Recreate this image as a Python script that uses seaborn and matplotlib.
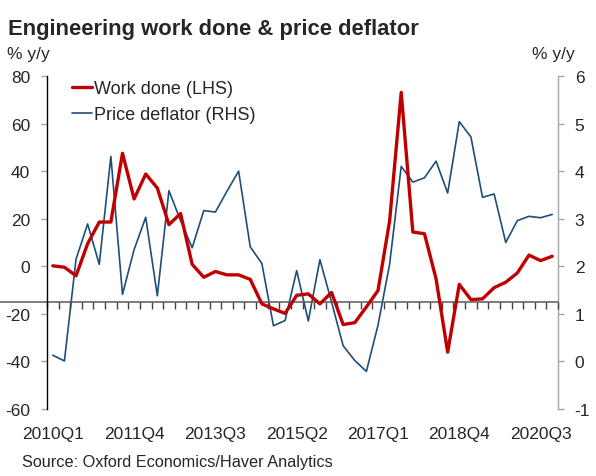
import numpy as np
import pandas as pd
import matplotlib
matplotlib.use("Agg")
import matplotlib.pyplot as plt
import seaborn as sns
from matplotlib.ticker import FixedLocator

# quarterly data, 2010Q1 .. 2020Q4
quarters = [f"{y}Q{q}" for y in range(2010, 2021) for q in range(1, 5)]
work_done = [0.2, -0.4, -4.0, 9.5, 18.6, 18.6, 47.5, 28.3, 38.8, 32.9,
             17.5, 22.2, 0.8, -4.6, -2.2, -3.6, -3.6, -5.5, -15.8, -17.9,
             -19.8, -12.2, -11.6, -15.8, -11.0, -24.5, -23.7, -17.1, -10.2, 19.0,
             73.1, 14.4, 13.7, -5.3, -36.1, -7.6, -14.0, -13.7, -9.0, -6.7,
             -2.8, 4.7, 2.4, 4.2]
price_deflator = [0.13, 0.01, 2.15, 2.89, 2.04, 4.31, 1.41, 2.35, 3.03, 1.38,
                  3.59, 2.96, 2.39, 3.17, 3.14, 3.58, 4.0, 2.41, 2.06, 0.75,
                  0.86, 1.91, 0.85, 2.14, 1.25, 0.33, 0.02, -0.21, 0.76, 2.04,
                  4.1, 3.77, 3.86, 4.21, 3.54, 5.04, 4.72, 3.45, 3.52, 2.5,
                  2.96, 3.05, 3.02, 3.09]
shown_labels = ["2010Q1", "2011Q4", "2013Q3", "2015Q2", "2017Q1", "2018Q4", "2020Q3"]
left_ticks = [80, 60, 40, 20, 0, -20, -40, -60]
right_ticks = [6, 5, 4, 3, 2, 1, 0, -1]

RED = "#C00000"
BLUE = "#1F4E79"
GREY = "#A6A6A6"

sns.set_style("white")
plt.rcParams["font.family"] = ["Liberation Sans", "DejaVu Sans"]
plt.rcParams["axes.unicode_minus"] = False

df = pd.DataFrame({"pos": np.arange(len(quarters)), "quarter": quarters,
                   "work": work_done, "defl": price_deflator})

fig = plt.figure(figsize=(5.96, 4.77), dpi=100)
ax = fig.add_axes([47 / 596, 1 - 410 / 477, 511 / 596, 333 / 477])
ax2 = ax.twinx()

sns.lineplot(data=df, x="pos", y="defl", ax=ax2, color=BLUE, linewidth=1.2,
             label="Price deflator (RHS)", legend=False)
sns.lineplot(data=df, x="pos", y="work", ax=ax, color=RED, linewidth=2.4,
             label="Work done (LHS)", legend=False)

ax.set_zorder(ax2.get_zorder() + 1)
ax.patch.set_visible(False)

ax.set_xlim(-0.5, len(quarters) - 0.5)
ax.set_ylim(-60, 80)
ax2.set_ylim(-1, 6)
ax.set_yticks(left_ticks)
ax2.set_yticks(right_ticks)
ax.set_xlabel("")
ax.set_ylabel("")
ax2.set_ylabel("")

# x axis line sits at -15 on the left scale, ticks between quarters
ax.spines["bottom"].set_position(("data", -15))
ax.spines["bottom"].set_visible(False)
ax.axhline(-15, xmin=-47 / 511, xmax=1, color="#595959", linewidth=1.1, clip_on=False, zorder=1)
ax.xaxis.set_major_locator(FixedLocator(np.arange(-0.5, len(quarters), 1.0)))
ax.tick_params(axis="x", direction="out", length=5, width=1, color="#404040",
               bottom=True, labelbottom=False)

sec = ax.secondary_xaxis(0)
sec.set_xticks([quarters.index(q) for q in shown_labels])
sec.set_xticklabels(shown_labels)
sec.tick_params(length=0, pad=12, labelsize=12.5)
sec.spines["bottom"].set_visible(False)

for a in (ax, ax2):
    a.spines["top"].set_visible(False)
    a.spines["bottom"].set_visible(False)
ax.spines["right"].set_visible(False)
ax2.spines["left"].set_visible(False)
ax.spines["left"].set_color("black")
ax.spines["left"].set_linewidth(1)
ax2.spines["right"].set_color(GREY)
ax2.spines["right"].set_linewidth(1)

ax.tick_params(axis="y", direction="out", length=4, width=1, color=GREY, labelsize=12.5, pad=8, left=True)
ax2.tick_params(axis="y", direction="out", length=4, width=1, color=GREY, labelsize=12.5, pad=8, right=True)
ax2.yaxis.set_ticks_position("right")

h1, l1 = ax.get_legend_handles_labels()
h2, l2 = ax2.get_legend_handles_labels()
ax.legend(h1 + h2, l1 + l2, loc="upper left", bbox_to_anchor=(72 / 596, 1 - 81 / 477),
          bbox_transform=fig.transFigure, frameon=False, fontsize=13,
          handlelength=1.1, handletextpad=0.1, labelspacing=0.5, borderpad=0, borderaxespad=0)

fig.text(8 / 596, 1 - 35 / 477, "Engineering work done & price deflator",
         fontsize=15.8, fontweight="bold", va="baseline")
fig.text(7 / 596, 1 - 59 / 477, "% y/y", fontsize=12.5, va="baseline")
fig.text(532 / 596, 1 - 59 / 477, "% y/y", fontsize=12.5, va="baseline")
fig.text(22 / 596, 1 - 467 / 477, "Source: Oxford Economics/Haver Analytics",
         fontsize=11.7, va="baseline")

fig.savefig("out.png", dpi=100)
